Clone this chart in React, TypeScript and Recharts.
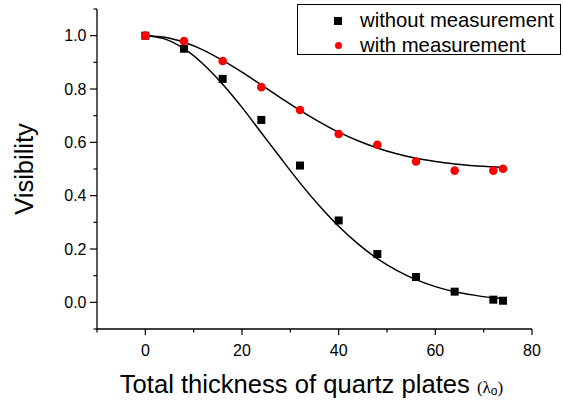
import React from 'react'
import {
  ComposedChart,
  Line,
  Scatter,
  XAxis,
  YAxis,
  Legend,
} from 'recharts'

// measured points
const plateX = [0, 8, 16, 24, 32, 40, 48, 56, 64, 72, 74]
const withoutValues = [1.0, 0.951, 0.838, 0.684, 0.513, 0.307, 0.181, 0.095, 0.04, 0.01, 0.006]
const withValues = [1.0, 0.98, 0.905, 0.807, 0.721, 0.631, 0.591, 0.528, 0.494, 0.494, 0.501]

// fitted curves
const fitX = [0, 4, 8, 12, 16, 20, 24, 28, 32, 36, 40, 44, 48, 52, 56, 60, 64, 68, 72, 74]
const withoutFit = [1.0, 0.988, 0.951, 0.893, 0.818, 0.731, 0.636, 0.541, 0.448, 0.362, 0.285, 0.219, 0.164, 0.12, 0.085, 0.059, 0.04, 0.027, 0.017, 0.014]
const withFit = [1.0, 0.994, 0.975, 0.946, 0.907, 0.863, 0.815, 0.767, 0.72, 0.677, 0.638, 0.606, 0.579, 0.557, 0.54, 0.528, 0.519, 0.512, 0.508, 0.506]

const xTicks = [-10, 0, 10, 20, 30, 40, 50, 60, 70, 80]
const yTicks = [-0.1, 0, 0.1, 0.2, 0.3, 0.4, 0.5, 0.6, 0.7, 0.8, 0.9, 1.0, 1.1]

const seriesNames = ['without measurement', 'with measurement']

const withoutPoints = plateX.map((x, i) => ({ x, y: withoutValues[i] }))
const withPoints = plateX.map((x, i) => ({ x, y: withValues[i] }))
const withoutCurve = fitX.map((x, i) => ({ x, y: withoutFit[i] }))
const withCurve = fitX.map((x, i) => ({ x, y: withFit[i] }))

const FONT = '"Liberation Sans", Arial, sans-serif'

function XTick({ x, y, payload }: any) {
  const v = payload.value
  const major = v % 20 === 0
  return (
    <g>
      <line x1={x} x2={x} y1={y} y2={y + (major ? 6 : 3.5)} stroke="#000" strokeWidth={1.2} />
      {major && (
        <text x={x} y={y + 27.3} textAnchor="middle" fontSize={16} fontFamily={FONT} fill="#000">
          {v}
        </text>
      )}
    </g>
  )
}

function YTick({ x, y, payload }: any) {
  const v = payload.value
  const major = Math.round(v * 10) % 2 === 0 && v >= 0 && v <= 1.0001
  return (
    <g>
      <line x1={x} x2={x - (major ? 7 : 3.5)} y1={y} y2={y} stroke="#000" strokeWidth={1.2} />
      {major && (
        <text x={x - 10.5} y={y} dy="0.36em" textAnchor="end" fontSize={16} fontFamily={FONT} fill="#000">
          {v.toFixed(1)}
        </text>
      )}
    </g>
  )
}

const SquareDot = ({ cx, cy }: any) => <rect x={cx - 4} y={cy - 4} width={8} height={8} fill="#000" />
const RoundDot = ({ cx, cy }: any) => <circle cx={cx} cy={cy} r={4.3} fill="#ff0000" />

function LegendBox() {
  return (
    <div
      style={{
        position: 'absolute',
        left: 297,
        top: 4,
        width: 264,
        height: 51,
        border: '1px solid #000',
        fontFamily: FONT,
        fontSize: 20.3,
        color: '#000',
        boxSizing: 'border-box',
      }}
    >
      <div style={{ position: 'absolute', left: 36, top: 12, width: 8, height: 8, background: '#000' }} />
      <div style={{ position: 'absolute', left: 62, top: 4, lineHeight: '23px', whiteSpace: 'nowrap' }}>{seriesNames[0]}</div>
      <div style={{ position: 'absolute', left: 37, top: 37, width: 7, height: 7, borderRadius: '50%', background: '#ff0000' }} />
      <div style={{ position: 'absolute', left: 62, top: 29, lineHeight: '23px', whiteSpace: 'nowrap' }}>{seriesNames[1]}</div>
    </div>
  )
}

export default function App() {
  return (
    <div style={{ position: 'absolute', left: 0, top: 0, width: 563, height: 402, background: '#fff' }}>
      <ComposedChart width={563} height={402} margin={{ top: 9, right: 31, bottom: 0, left: 0 }}>
        <XAxis
          dataKey="x"
          type="number"
          domain={[-10, 80]}
          ticks={xTicks}
          interval={0}
          height={73}
          tickLine={false}
          tickSize={0}
          tickMargin={0}
          tick={<XTick />}
          axisLine={{ stroke: '#000', strokeWidth: 1.3 }}
          allowDataOverflow
          label={({ viewBox }: any) => (
            <text
              x={viewBox.x + viewBox.width / 2 - 3}
              y={viewBox.y + 63.7}
              textAnchor="middle"
              fontFamily={FONT}
              fontSize={25.6}
              fill="#000"
            >
              Total thickness of quartz plates{' '}
              <tspan fontSize={17} fontFamily='"Liberation Serif", serif'>(λ</tspan>
              <tspan fontSize={12} dy={2}>o</tspan>
              <tspan fontSize={17} dy={-2} fontFamily='"Liberation Serif", serif'>)</tspan>
            </text>
          )}
        />
        <YAxis
          type="number"
          domain={[-0.1, 1.1]}
          ticks={yTicks}
          interval={0}
          width={97}
          tickLine={false}
          tickSize={0}
          tickMargin={0}
          tick={<YTick />}
          axisLine={{ stroke: '#000', strokeWidth: 1.3 }}
          allowDataOverflow
          label={({ viewBox }: any) => {
            const cy = viewBox.y + viewBox.height / 2
            return (
              <text
                x={33}
                y={cy}
                transform={`rotate(-90, 33, ${cy})`}
                textAnchor="middle"
                fontFamily={FONT}
                fontSize={25.5}
                fill="#000"
              >
                Visibility
              </text>
            )
          }}
        />
        <Legend content={<LegendBox />} wrapperStyle={{ position: 'absolute', left: 0, top: 0 }} />
        <Line
          data={withoutCurve}
          dataKey="y"
          type="monotone"
          stroke="#000"
          strokeWidth={1.5}
          dot={false}
          activeDot={false}
          legendType="none"
          isAnimationActive={false}
        />
        <Line
          data={withCurve}
          dataKey="y"
          type="monotone"
          stroke="#000"
          strokeWidth={1.5}
          dot={false}
          activeDot={false}
          legendType="none"
          isAnimationActive={false}
        />
        <Scatter name={seriesNames[0]} data={withoutPoints} dataKey="y" shape={<SquareDot />} isAnimationActive={false} />
        <Scatter name={seriesNames[1]} data={withPoints} dataKey="y" shape={<RoundDot />} isAnimationActive={false} />
      </ComposedChart>
    </div>
  )
}
